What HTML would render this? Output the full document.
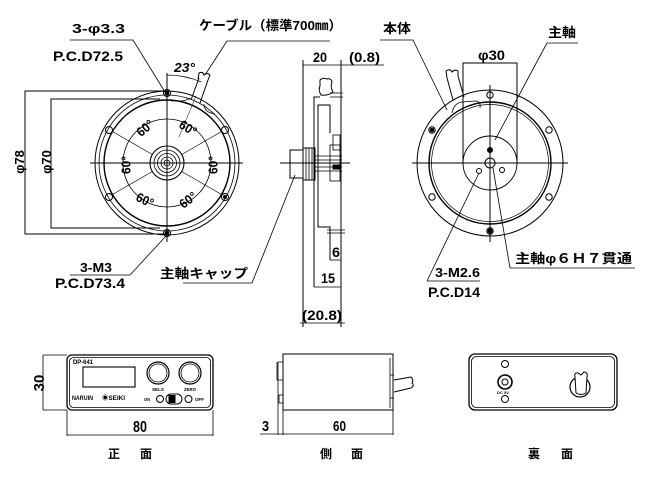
<!DOCTYPE html>
<html><head><meta charset="utf-8">
<style>
html,body{margin:0;padding:0;background:#fff;}
svg{display:block;}
text{font-family:"Liberation Sans","Noto Sans CJK JP",sans-serif;font-weight:bold;fill:#000;stroke:none;}
</style></head><body>
<svg width="650" height="480" viewBox="0 0 650 480" xmlns="http://www.w3.org/2000/svg">
<g fill="none" stroke="#000" stroke-width="1">

<!-- ===== LEFT VIEW ===== -->
<path d="M167,91 H25 V234 H167"/>
<path d="M160,99 H51 V228 H160"/>
<circle cx="167" cy="163" r="72"/>
<circle cx="167" cy="163" r="68" stroke-width="0.8"/>
<circle cx="167" cy="163" r="63" stroke-width="1.4"/>
<circle cx="167" cy="163" r="44" stroke-width="0.8"/>
<circle cx="167" cy="163" r="17" stroke-width="1.1"/>
<circle cx="167" cy="163" r="13" stroke-width="0.8"/>
<circle cx="167" cy="163" r="9.5" stroke-width="0.8"/>
<circle cx="167" cy="163" r="6" stroke-width="0.8"/>
<circle cx="167" cy="163" r="3" stroke-width="0.8"/>
<g stroke-width="0.7">
<path d="M181.7,154.5 L222.4,131"/>
<path d="M152.3,154.5 L111.6,131"/>
<path d="M152.3,171.5 L111.6,195"/>
<path d="M181.7,171.5 L222.4,195"/>
</g>
<path d="M90,163 H243"/>
<path d="M167,73 V242"/>
<!-- holes -->
<circle cx="167" cy="93" r="3.5"/><circle cx="167" cy="93" r="1.8" fill="#000"/>
<circle cx="109" cy="130" r="3.5"/>
<circle cx="225" cy="130" r="3.5"/>
<circle cx="109" cy="197" r="3.5"/>
<circle cx="225" cy="197" r="3.5"/><circle cx="225" cy="197" r="1.5" fill="#000"/>
<circle cx="167" cy="233" r="3.5"/><circle cx="167" cy="233" r="1.8" fill="#000"/>
<!-- 23 deg arc & cable -->
<path d="M167,75 A88,88 0 0 1 201.4,82" stroke-width="0.8"/>
<path d="M191,100 L199,78"/>
<path d="M200,103 L208,80"/>
<path d="M198,79 L199,73 Q203,71 204,75 Q207,72 210,75 L208,80"/>
<path d="M171,101 C178,100 183,103 190,98" stroke-width="0.8"/>
<path d="M204,104 C204,110 208,113 215,114" stroke-width="0.8"/>
<path d="M179,137 L196,96" stroke-width="0.5"/>
<!-- leaders -->
<path d="M70,40 H133 L165,92" stroke-width="0.8"/>
<path d="M227,41 H330" stroke-width="0.8"/>
<path d="M227,41 L205,75" stroke-width="0.8"/>
<path d="M70,275 H130 L166,236" stroke-width="0.8"/>
<path d="M183,283 H252 L295,175" stroke-width="0.8"/>

<!-- ===== MIDDLE SIDE VIEW ===== -->
<path d="M303,60 V327"/>
<path d="M341,60 V327"/>
<path d="M303,65 H384" stroke-width="0.8"/>
<path d="M320,97 H314 V287"/>
<path d="M330,133 V105 H318 V227 H330 V260"/>
<path d="M314,287 H341" stroke-width="0.8"/>
<path d="M330,260 H341" stroke-width="0.8"/>
<path d="M300,323 H345" stroke-width="0.8"/>
<path d="M330,93 H343 M330,97 H343" stroke-width="0.8"/>
<rect x="333" y="135" width="7" height="15" stroke-width="0.8"/>
<path d="M327,230 H345 M327,233 H345" stroke-width="0.8"/>
<rect x="290" y="150" width="13" height="28"/>
<rect x="303" y="148" width="12" height="32"/>
<path d="M306,148 V180 M309,148 V180 M312,148 V180" stroke-width="0.8"/>
<path d="M315,156 H342 M315,160 H342 M315,167 H342 M315,171 H342" stroke-width="0.8"/>
<rect x="330" y="145" width="10" height="36" stroke-width="0.8"/>
<rect x="333" y="165" width="8" height="4" fill="#000"/>
<path d="M280,163 H350"/>
<path d="M320,80 Q323,77 327,79 Q331,78 332,82 Q330,87 333,92 Q328,96 321,95 Q318,90 320,86 Z"/>

<!-- ===== RIGHT VIEW ===== -->
<circle cx="490" cy="163" r="73"/>
<circle cx="490" cy="163" r="61" stroke-width="1.4"/>
<circle cx="490" cy="163" r="58.5" stroke-width="0.7"/>
<circle cx="490" cy="163" r="27" stroke-width="0.9"/>
<circle cx="490" cy="163" r="5"/>
<circle cx="490" cy="95" r="3.2"/>
<circle cx="549" cy="130" r="3.2"/>
<circle cx="432" cy="130" r="3.2"/><circle cx="432" cy="130" r="1.8" fill="#000"/>
<circle cx="432" cy="197" r="3.2"/>
<circle cx="549" cy="197" r="3.2"/>
<circle cx="490" cy="231" r="3.2"/><circle cx="490" cy="231" r="2" fill="#000"/>
<circle cx="490" cy="150" r="2.5" fill="#000"/>
<circle cx="479" cy="171" r="2.5"/>
<circle cx="502" cy="170" r="2.5"/>
<path d="M412,163 H568"/>
<path d="M490,85 V242"/>
<path d="M463,163 V63 H517 V163"/>
<path d="M453,100 L447,78"/>
<path d="M464,97 L458,76"/>
<path d="M447,78 L446,71 Q450,68 452,72 Q455,69 458,71 L458,76"/>
<path d="M452,113 Q454,103 462,102 L476,101 Q481,102 480,108" stroke-width="0.8"/>
<path d="M380,40 H413 L447,110" stroke-width="0.8"/>
<path d="M547,43 H578" stroke-width="0.8"/>
<path d="M547,43 L495,140" stroke-width="0.8"/>
<path d="M427,281 H480" stroke-width="0.8"/>
<path d="M427,281 L479,173" stroke-width="0.8"/>
<path d="M510,268 H635" stroke-width="0.8"/>
<path d="M510,268 L493,168" stroke-width="0.8"/>

<!-- ===== FRONT (正面) ===== -->
<rect x="67" y="355" width="146" height="55" rx="5" stroke-width="1.3"/>
<rect x="69.5" y="357.5" width="141" height="50" rx="4" stroke-width="0.8"/>
<rect x="83" y="367" width="52" height="20" stroke-width="1.1"/>
<circle cx="158" cy="373" r="11" stroke-width="1.2"/>
<circle cx="158" cy="373" r="9" stroke-width="0.8"/>
<circle cx="190" cy="373" r="11" stroke-width="1.2"/>
<circle cx="190" cy="373" r="9" stroke-width="0.8"/>
<circle cx="160" cy="399" r="3.5"/>
<rect x="166" y="394" width="16" height="10" rx="5"/>
<rect x="169" y="395.5" width="6" height="7" fill="#000"/>
<circle cx="188.5" cy="399" r="3.5"/>
<path d="M43,355 H67 M43,410 H67 M43,355 V410" stroke-width="0.8"/>
<path d="M67,410 V436 M213,410 V436 M67,435 H213" stroke-width="0.8"/>

<!-- ===== SIDE (側面) ===== -->
<rect x="283" y="354" width="110" height="56"/>
<path d="M283,410 V435 M393,410 V435" stroke-width="0.8"/>
<path d="M278,362 V435" stroke-width="0.8"/>
<path d="M283,362 H278 M283,380 H277 V362" stroke-width="0.8"/>
<rect x="279" y="395" width="4" height="8" stroke-width="0.8"/>
<path d="M390,358 V408" stroke-width="0.8"/>
<path d="M390,375 H394 M390,398 H394" stroke-width="0.8"/>
<path d="M394,380 L411,377 M394,392 L411,388"/>
<path d="M411,377 Q414,380 412,383 Q415,385 411,388"/>
<path d="M260,434 H393" stroke-width="0.8"/>

<!-- ===== BACK (裏面) ===== -->
<rect x="469" y="354" width="148" height="56" rx="6" stroke-width="1.3"/>
<rect x="471.5" y="356.5" width="143" height="51" rx="5" stroke-width="0.8"/>
<circle cx="505" cy="364" r="3.5"/>
<circle cx="505" cy="382" r="7" stroke-width="1.6"/>
<circle cx="505" cy="382" r="3"/>
<circle cx="505" cy="399" r="3.5"/>
<circle cx="580" cy="387" r="10" stroke-width="1.2"/>
<path d="M576,393 L575,377 Q574,372 578,373 L581,375 L584,372 Q588,372 587,377 L586,393 Q581,396 576,393 Z" fill="#fff"/>
</g>

<!-- ===== TEXT ===== -->
<g>
<text x="72" y="33" font-size="13" textLength="53" lengthAdjust="spacingAndGlyphs">3-φ3.3</text>
<text x="53" y="61" font-size="14" textLength="70" lengthAdjust="spacingAndGlyphs">P.C.D72.5</text>
<text x="199" y="30" font-size="13" textLength="143" lengthAdjust="spacingAndGlyphs">ケーブル（標準700㎜）</text>
<text x="174" y="72" font-size="13" font-style="italic" textLength="21" lengthAdjust="spacingAndGlyphs">23°</text>
<text transform="translate(24,162) rotate(-90)" text-anchor="middle" font-size="13">φ78</text>
<text transform="translate(51,162) rotate(-90)" text-anchor="middle" font-size="13">φ70</text>
<text transform="translate(145,128) rotate(-40)" text-anchor="middle" dy="4.5" font-size="13" textLength="18" lengthAdjust="spacingAndGlyphs">60°</text>
<text transform="translate(188,128) rotate(32)" text-anchor="middle" dy="4.5" font-size="13" textLength="18" lengthAdjust="spacingAndGlyphs">60°</text>
<text transform="translate(126,165) rotate(-90)" text-anchor="middle" dy="4.5" font-size="13" textLength="18" lengthAdjust="spacingAndGlyphs">60°</text>
<text transform="translate(213,165) rotate(-90)" text-anchor="middle" dy="4.5" font-size="13" textLength="18" lengthAdjust="spacingAndGlyphs">60°</text>
<text transform="translate(145,200) rotate(25)" text-anchor="middle" dy="4.5" font-size="13" textLength="18" lengthAdjust="spacingAndGlyphs">60°</text>
<text transform="translate(188,200) rotate(-37)" text-anchor="middle" dy="4.5" font-size="13" textLength="18" lengthAdjust="spacingAndGlyphs">60°</text>
<text x="80" y="272" font-size="13" textLength="32" lengthAdjust="spacingAndGlyphs">3-M3</text>
<text x="55" y="288" font-size="14" textLength="70" lengthAdjust="spacingAndGlyphs">P.C.D73.4</text>
<text x="160" y="278" font-size="13" textLength="88" lengthAdjust="spacingAndGlyphs">主軸キャップ</text>

<text x="313" y="62" font-size="14" textLength="14" lengthAdjust="spacingAndGlyphs">20</text>
<text x="349" y="62" font-size="14" textLength="31" lengthAdjust="spacingAndGlyphs">(0.8)</text>
<text x="332" y="257" font-size="14" textLength="8" lengthAdjust="spacingAndGlyphs">6</text>
<text x="321" y="283" font-size="14" textLength="14" lengthAdjust="spacingAndGlyphs">15</text>
<text x="302" y="320" font-size="14" textLength="40" lengthAdjust="spacingAndGlyphs">(20.8)</text>

<text x="383" y="33" font-size="13" textLength="28" lengthAdjust="spacingAndGlyphs">本体</text>
<text x="548" y="37" font-size="13" textLength="28" lengthAdjust="spacingAndGlyphs">主軸</text>
<text x="478" y="60" font-size="14" textLength="27" lengthAdjust="spacingAndGlyphs">φ30</text>
<text x="435" y="277" font-size="13" textLength="45" lengthAdjust="spacingAndGlyphs">3-M2.6</text>
<text x="428" y="297" font-size="14" textLength="52" lengthAdjust="spacingAndGlyphs">P.C.D14</text>
<text x="515" y="263" font-size="13" textLength="117" lengthAdjust="spacingAndGlyphs">主軸φ６Ｈ７貫通</text>

<text x="73" y="364" font-size="6" textLength="20" lengthAdjust="spacingAndGlyphs">DP-641</text>
<text x="152" y="391" font-size="4.5" textLength="12" lengthAdjust="spacingAndGlyphs">SELS</text>
<text x="184" y="391" font-size="4.5" textLength="12" lengthAdjust="spacingAndGlyphs">ZERO</text>
<text x="72" y="400" font-size="6" textLength="21" lengthAdjust="spacingAndGlyphs">NARUIN</text>
<text x="102" y="400" font-size="6" textLength="23" lengthAdjust="spacingAndGlyphs">◉SEIKI</text>
<text x="144" y="401" font-size="4.5" textLength="6" lengthAdjust="spacingAndGlyphs">ON</text>
<text x="195" y="401" font-size="4.5" textLength="9" lengthAdjust="spacingAndGlyphs">OFF</text>
<text transform="translate(44,383) rotate(-90)" text-anchor="middle" font-size="15">30</text>
<text x="133" y="432" font-size="16" textLength="14" lengthAdjust="spacingAndGlyphs">80</text>
<text x="108" y="458" font-size="12">正</text>
<text x="140" y="458" font-size="12">面</text>

<text x="262" y="431" font-size="15" textLength="7" lengthAdjust="spacingAndGlyphs">3</text>
<text x="333" y="431" font-size="15" textLength="13" lengthAdjust="spacingAndGlyphs">60</text>
<text x="320" y="458" font-size="12">側</text>
<text x="351" y="458" font-size="12">面</text>

<text x="497" y="394" font-size="4" textLength="12" lengthAdjust="spacingAndGlyphs">DC 5V</text>
<text x="528" y="458" font-size="12">裏</text>
<text x="561" y="458" font-size="12">面</text>
</g>
</svg>
</body></html>
